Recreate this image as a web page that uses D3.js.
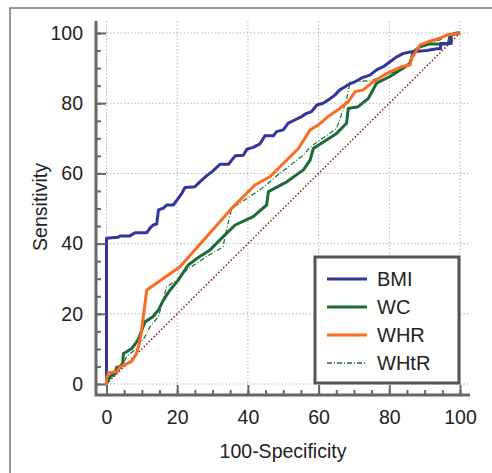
<!DOCTYPE html>
<html>
<head>
<meta charset="utf-8">
<script src="https://cdn.jsdelivr.net/npm/d3@7"></script>
<style>
  body { margin: 0; background: #fff; }
  svg { display: block; font-family: "Liberation Sans", Arial, sans-serif; }
</style>
</head>
<body>
<svg id="chart" width="492" height="473"></svg>
<script>
// ---- data (100-Specificity, Sensitivity) ----
const seriesNames = ["BMI", "WC", "WHR", "WHtR"];
const seriesColors = ["#33359a", "#1c6a36", "#fb6b22", "#1c6a36"];

const bmiX = [0,0,3.3,3.8,6.6,8.1,11.4,12.3,13.2,14.2,14.7,16.1,17.0,18.9,20.3,21.3,22.2,25,26.4,28.3,30.2,32.1,34.5,36.4,38.7,39.7,41.5,43.4,44.8,47.2,48.1,50,51.4,52.8,55.2,56.6,58,59.5,61.3,62.7,64.6,66,67.5,68.9,70.3,72.2,74.5,76.4,78.3,80.2,82.1,84,85.9,90.6,93.4,94.5,94.5,97.5,97.5,100];
const bmiY = [0,41.5,41.8,42.2,42.2,43.1,43.1,44.4,45.3,45.6,49.6,50.1,51,51,52.9,54.3,56,56.2,57.6,59.3,60.8,62.6,62.6,65,65.2,66.9,67.4,68.4,70.7,70.7,71.9,72.4,74.3,75,76.2,77.1,77.6,79.5,80,80.9,82.3,83.8,84.7,85.6,86.1,87.2,88,89.5,90.4,91.8,93.2,94.2,94.6,95,95.5,95.5,97,97,99.5,100];

const wcX = [0,1,2.4,2.9,3.8,4.6,4.8,5.7,7.1,8.1,9,10,10.9,13.2,14.7,16.1,18,20.3,23.1,26.4,29.3,33,36.4,41.5,45.3,45.8,51,55.7,57.6,58.5,65.1,67.9,68.4,71.2,74.1,76.4,80.2,84,85.9,86.8,88.7,91.5,96.7,97.2,99.1,100];
const wcY = [0,2.1,3,4.8,4.9,5.9,8.7,9.2,10.1,11.4,12.7,15.4,17.7,19.2,21.1,23.9,26.8,29.6,33.9,36.3,38.2,42,45.3,47.7,51,54.8,57.6,61,63.8,67.1,71.4,74.3,78.5,79,81.4,85.7,87.6,90,91.4,94.7,96.1,96.9,96.9,99.4,100,100];

const whrX = [0,0,0.5,2.9,3.8,7.1,8.5,9.5,10,11.4,20.8,25,35,42,46.3,54.3,57.6,59.9,62.7,66,68.4,70.3,72.6,75.5,79.3,83.5,85.9,86.3,88.7,91,94.3,96.2,100];
const whrY = [0,1.6,3.2,3.5,4.9,6.4,8.7,12.5,15.9,26.8,33.4,38.2,49.6,56.7,59.1,67.1,72.4,73.8,76.2,78.5,80.4,83.3,83.8,86.1,88.5,90.4,90.9,92.8,96.6,97.5,98.5,99.4,100];

const whtrX = [0,0,2.9,4.8,5.7,8.5,10.9,12.3,14.7,17,19.9,22.7,28.3,33,33.5,35.4,43.4,49,55.7,57.6,60.4,65.1,67.9,68.9,75,80.2,83.5,85.3,86.3,89.6,94.3,97.2,100];
const whtrY = [0,0.7,3,5.9,7.8,10.2,13.5,16.3,19.2,27.7,29.6,32.5,36.3,39.1,42,50,55.3,60,65.2,67.5,69.5,72.8,80.9,86.1,86.4,88.5,89.5,90.9,93.2,97,98,99.9,100];

const majorTicks = [0, 20, 40, 60, 80, 100];
const minorTicks = d3.range(0, 101, 5);

// ---- layout ----
const svg = d3.select("#chart");
const x = d3.scaleLinear().domain([0, 100]).range([106.5, 460]);
const y = d3.scaleLinear().domain([0, 100]).range([384, 33]);
const axisColor = "#666";
const textColor = "#222";
const yAxisX = 96, xAxisY = 395;

// outer frame
svg.append("rect").attr("x", 10).attr("y", 8).attr("width", 600).attr("height", 600)
  .attr("fill", "none").attr("stroke", "#777").attr("stroke-width", 1.5);

// grid
const grid = svg.append("g").attr("stroke", "#b5b5b5").attr("stroke-width", 1).attr("stroke-dasharray", "1.5,2");
grid.selectAll(".gx").data(majorTicks).join("line")
  .attr("x1", d => x(d)).attr("x2", d => x(d)).attr("y1", 21).attr("y2", xAxisY);
grid.selectAll(".gy").data(majorTicks).join("line")
  .attr("y1", d => y(d)).attr("y2", d => y(d)).attr("x1", yAxisX).attr("x2", 470);

// diagonal
svg.append("line").attr("x1", x(0)).attr("y1", y(0)).attr("x2", x(100)).attr("y2", y(100))
  .attr("stroke", "#8b1a28").attr("stroke-width", 1.5).attr("stroke-dasharray", "1.5,2");

// curves
const line = d3.line().x(d => x(d[0])).y(d => y(d[1]));
const seriesData = [
  d3.zip(bmiX, bmiY), d3.zip(wcX, wcY), d3.zip(whrX, whrY), d3.zip(whtrX, whtrY)
];
const widths = [3, 3, 3, 1.2];
const dashes = [null, null, null, "5,2,1,2"];
const drawOrder = [3, 1, 0, 2];
drawOrder.forEach(i => {
  svg.append("path").datum(seriesData[i]).attr("d", line)
    .attr("fill", "none").attr("stroke", seriesColors[i])
    .attr("stroke-width", widths[i]).attr("stroke-linejoin", "round")
    .attr("stroke-dasharray", dashes[i]);
});

// axes
const yAxis = d3.axisLeft(y).tickValues(majorTicks).tickSizeInner(-10).tickSizeOuter(0).tickPadding(13);
const yMinor = d3.axisLeft(y).tickValues(minorTicks).tickSizeInner(-5).tickSizeOuter(0).tickFormat("");
const xAxis = d3.axisBottom(x).tickValues(majorTicks).tickSizeInner(-10).tickSizeOuter(0).tickPadding(15);
const xMinor = d3.axisBottom(x).tickValues(minorTicks).tickSizeInner(-5).tickSizeOuter(0).tickFormat("");

function styleAxis(g) {
  g.select(".domain").remove();
  g.attr("font-size", null).attr("font-family", null);
  g.selectAll(".tick line").attr("stroke", axisColor).attr("stroke-width", 2);
  g.selectAll(".tick text").attr("fill", textColor).style("font-size", "19.5px")
   .style("font-family", "'Liberation Sans', Arial, sans-serif");
}
svg.append("g").attr("transform", `translate(${yAxisX},0)`).call(yMinor).call(styleAxis);
svg.append("g").attr("transform", `translate(${yAxisX},0)`).call(yAxis).call(styleAxis);
svg.append("g").attr("transform", `translate(0,${xAxisY})`).call(xMinor).call(styleAxis);
svg.append("g").attr("transform", `translate(0,${xAxisY})`).call(xAxis).call(styleAxis);

// axis lines
svg.append("path").attr("d", `M${yAxisX},21V${xAxisY}H470`).attr("fill", "none")
  .attr("stroke", axisColor).attr("stroke-width", 3);

// axis titles
svg.append("text").attr("x", 283).attr("y", 458).attr("text-anchor", "middle")
  .attr("fill", textColor).style("font-size", "19.5px").text("100-Specificity");
svg.append("text").attr("transform", "translate(47,207) rotate(-90)").attr("text-anchor", "middle")
  .attr("fill", textColor).style("font-size", "19.5px").text("Sensitivity");

// legend
const lg = svg.append("g");
lg.append("rect").attr("x", 315).attr("y", 257).attr("width", 144).attr("height", 126)
  .attr("fill", "#fff").attr("stroke", "#555").attr("stroke-width", 3);
seriesNames.forEach((name, i) => {
  const yy = 279 + i * 28;
  lg.append("line").attr("x1", 327).attr("x2", 367).attr("y1", yy).attr("y2", yy)
    .attr("stroke", seriesColors[i]).attr("stroke-width", i === 3 ? 1.5 : 3)
    .attr("stroke-dasharray", dashes[i]);
  lg.append("text").attr("x", 377).attr("y", yy + 7).attr("fill", textColor)
    .style("font-size", "20px").text(name);
});
</script>
</body>
</html>
